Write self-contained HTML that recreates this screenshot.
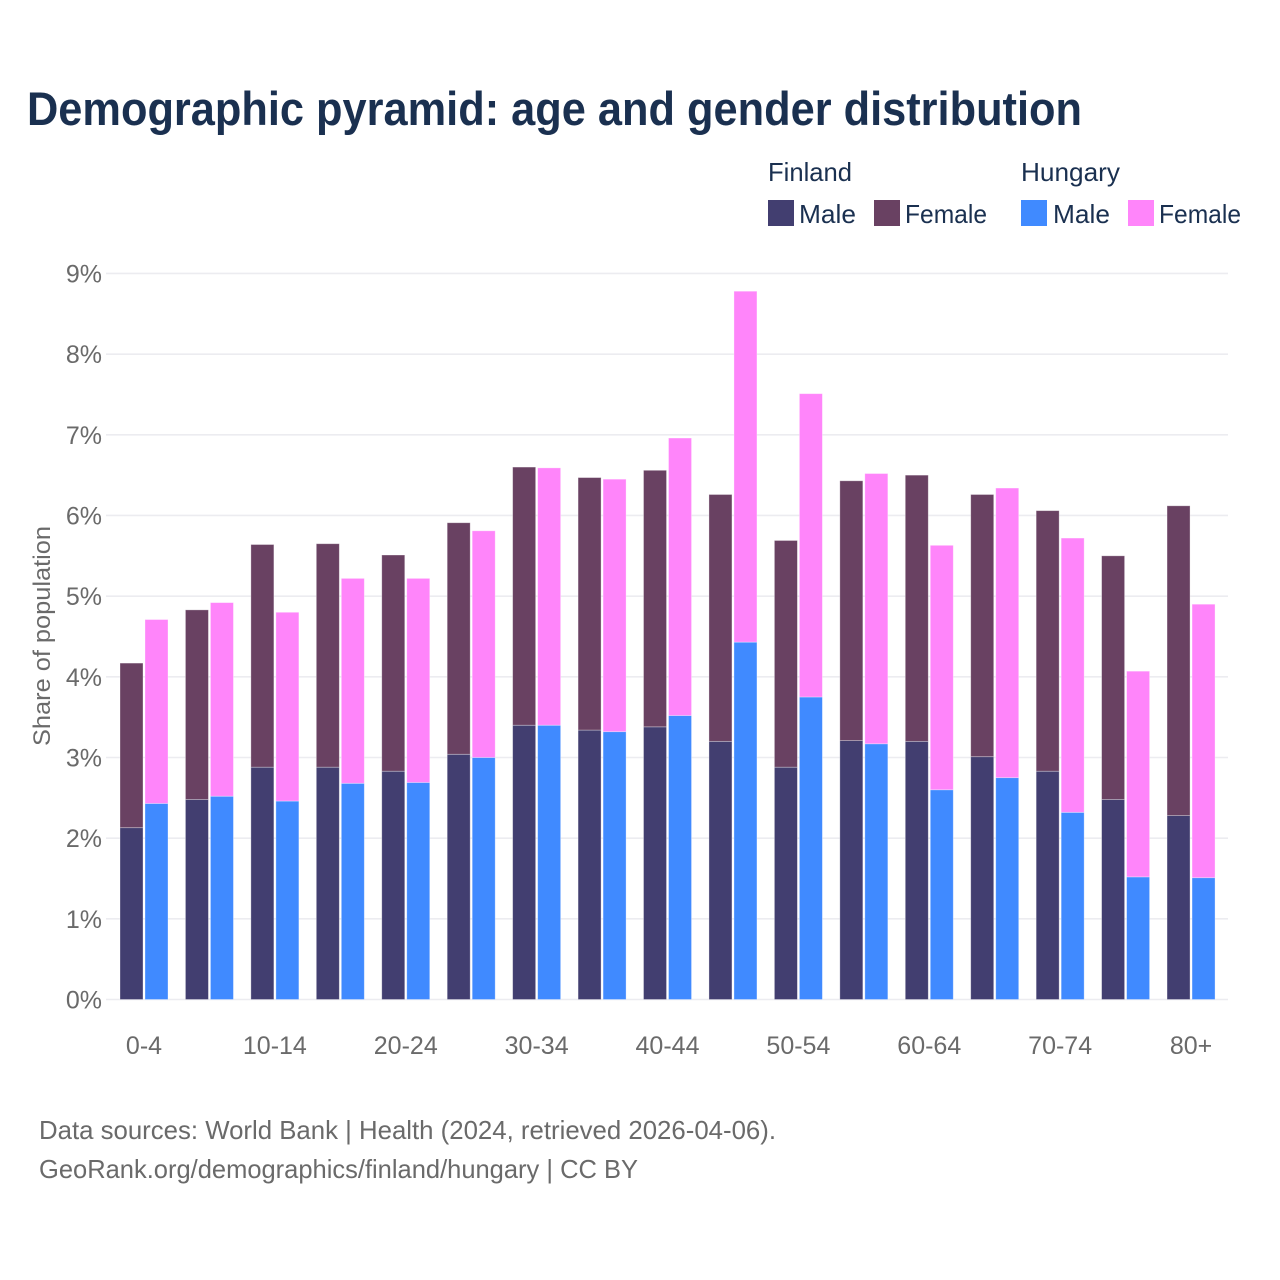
<!DOCTYPE html>
<html lang="en">
<head>
<meta charset="utf-8">
<title>Demographic pyramid</title>
<style>
html,body{margin:0;padding:0;background:#fff;width:1280px;height:1280px;overflow:hidden}
svg{display:block}
text{font-family:"Liberation Sans",sans-serif}
</style>
</head>
<body>
<svg id="chart" xmlns="http://www.w3.org/2000/svg" width="1280" height="1280" viewBox="0 0 1280 1280">
  <rect x="0" y="0" width="1280" height="1280" fill="#fff"/>
  <text x="27" y="125" font-size="47" font-weight="700" fill="#1a3050" textLength="1055" lengthAdjust="spacingAndGlyphs">Demographic pyramid: age and gender distribution</text>

  <g font-size="26" fill="#1a3050">
    <text x="768" y="181" textLength="84" lengthAdjust="spacingAndGlyphs">Finland</text>
    <text x="1021" y="181" textLength="99" lengthAdjust="spacingAndGlyphs">Hungary</text>
    <rect x="768" y="200" width="26" height="26" fill="#423e70"/>
    <text x="799" y="223" textLength="57" lengthAdjust="spacingAndGlyphs">Male</text>
    <rect x="874" y="200" width="26" height="26" fill="#694162"/>
    <text x="905" y="223" textLength="82" lengthAdjust="spacingAndGlyphs">Female</text>
    <rect x="1021" y="200" width="26" height="26" fill="#408aff"/>
    <text x="1053" y="223" textLength="57" lengthAdjust="spacingAndGlyphs">Male</text>
    <rect x="1128" y="200" width="26" height="26" fill="#ff85fa"/>
    <text x="1159" y="223" textLength="82" lengthAdjust="spacingAndGlyphs">Female</text>
  </g>

  <g id="grid"></g>
  <g id="bars"></g>
  <g id="y-ticks"></g>
  <g id="x-ticks"></g>

  <text transform="translate(50 636) rotate(-90)" text-anchor="middle" font-size="24" fill="#6a6a6a" textLength="220" lengthAdjust="spacingAndGlyphs">Share of population</text>

  <text x="39" y="1139" font-size="26" fill="#6a6a6a" textLength="737" lengthAdjust="spacingAndGlyphs">Data sources: World Bank | Health (2024, retrieved 2026-04-06).</text>
  <text x="39" y="1178" font-size="26" fill="#6a6a6a" textLength="599" lengthAdjust="spacingAndGlyphs">GeoRank.org/demographics/finland/hungary | CC BY</text>
</svg>
<script>
const categories = ["0-4","5-9","10-14","15-19","20-24","25-29","30-34","35-39","40-44","45-49","50-54","55-59","60-64","65-69","70-74","75-79","80+"];
const finlandMale = [2.13,2.48,2.88,2.88,2.83,3.04,3.40,3.34,3.38,3.20,2.88,3.21,3.20,3.01,2.83,2.48,2.28];
const finlandFemale = [2.04,2.35,2.76,2.77,2.68,2.87,3.20,3.13,3.18,3.06,2.81,3.22,3.30,3.25,3.23,3.02,3.84];
const hungaryMale = [2.43,2.52,2.46,2.68,2.69,3.00,3.40,3.32,3.52,4.43,3.75,3.17,2.60,2.75,2.32,1.52,1.51];
const hungaryFemale = [2.28,2.40,2.34,2.54,2.53,2.81,3.19,3.13,3.44,4.35,3.76,3.35,3.03,3.59,3.40,2.55,3.39];
const yTicks = [0,1,2,3,4,5,6,7,8,9];
const xTickEvery = 2;

const NS = "http://www.w3.org/2000/svg";
const y = v => 999.5 - v * 80.67;
const groupX = i => 144 + i * 65.44;
const BAR_W = 23;
const BAR_GAP = 2;

function make(tag, parent, attrs) {
  const el = document.createElementNS(NS, tag);
  for (const k in attrs) el.setAttribute(k, attrs[k]);
  parent.appendChild(el);
  return el;
}

const gridG = document.getElementById("grid");
const yG = document.getElementById("y-ticks");
yTicks.forEach(t => {
  const line = make("line", gridG, {x1: 106, x2: 1228, y1: y(t), y2: y(t), stroke: "#ececf0", "stroke-width": 1.6});
  
  
  const label = make("text", yG, {x: 102, y: y(t) + 9, "text-anchor": "end", "font-size": 25, fill: "#6a6a6a"});
  label.textContent = t + "%";
  
  
});

const xG = document.getElementById("x-ticks");
categories.forEach((c, i) => {
  if (i % xTickEvery !== 0) return;
  const label = make("text", xG, {x: groupX(i), y: 1054, "text-anchor": "middle", "font-size": 25, fill: "#6a6a6a"});
  label.textContent = c;
  
  
});

const barsG = document.getElementById("bars");
function bar(x, v0, v1, fill) {
  const r = make("rect", barsG, {
    x: x, y: y(v1), width: BAR_W, height: y(v0) - y(v1),
    fill: fill, stroke: "#fff", "stroke-opacity": 0.4, "stroke-width": 0.8
  });
  return r;
}
categories.forEach((c, i) => {
  const xF = groupX(i) - BAR_W - BAR_GAP / 2;
  const xH = groupX(i) + BAR_GAP / 2;

  const fm = bar(xF, 0, finlandMale[i], "#423e70");
  
  

  const ff = bar(xF, finlandMale[i], finlandMale[i] + finlandFemale[i], "#694162");
  
  

  const hm = bar(xH, 0, hungaryMale[i], "#408aff");
  
  

  const hf = bar(xH, hungaryMale[i], hungaryMale[i] + hungaryFemale[i], "#ff85fa");
  
  
});
</script>
</body>
</html>
